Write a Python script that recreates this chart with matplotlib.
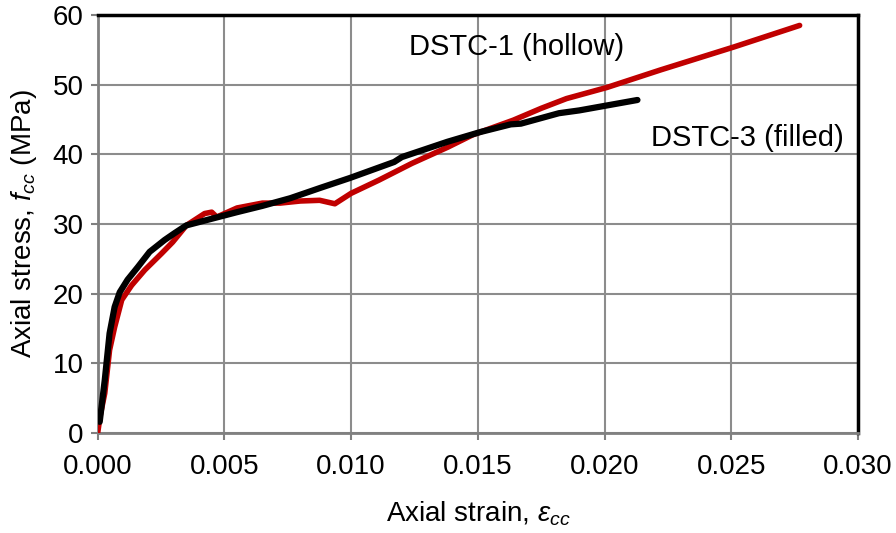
import matplotlib.pyplot as plt
import numpy as np

plt.rcParams['font.family'] = ['Liberation Sans', 'DejaVu Sans']
plt.rcParams['mathtext.fontset'] = 'custom'
plt.rcParams['mathtext.it'] = 'Liberation Sans:italic'
plt.rcParams['mathtext.rm'] = 'Liberation Sans'

# DSTC-1 (hollow), red
strain_1 = [0.0, 0.00010, 0.00028, 0.00047, 0.00067, 0.00095, 0.00134, 0.00186,
            0.00253, 0.00296, 0.0035, 0.00422, 0.0045, 0.0047, 0.0055, 0.0065,
            0.0072, 0.0080, 0.00876, 0.00936, 0.0100, 0.0111, 0.0124, 0.0138,
            0.0148, 0.0164, 0.0175, 0.0185, 0.0201, 0.0222, 0.0251, 0.0277]
stress_1 = [0.0, 2.5, 5.7, 11.9, 15.2, 19.1, 21.2, 23.4,
            25.8, 27.4, 29.8, 31.5, 31.7, 31.0, 32.3, 33.0,
            33.0, 33.3, 33.4, 32.9, 34.4, 36.3, 38.7, 41.0,
            42.8, 44.9, 46.6, 48.0, 49.6, 52.1, 55.4, 58.5]

# DSTC-3 (filled), black
strain_3 = [0.00008, 0.00028, 0.00047, 0.00067, 0.00087, 0.00118, 0.00158, 0.00205,
            0.00264, 0.00304, 0.0035, 0.00434, 0.0055, 0.0065, 0.0076, 0.0088,
            0.00995, 0.0117, 0.0120, 0.0138, 0.0151, 0.0163, 0.0167, 0.0182,
            0.0190, 0.0213]
stress_3 = [1.6, 7.6, 14.3, 18.1, 20.2, 22.0, 23.8, 26.0,
            27.7, 28.7, 29.8, 30.6, 31.7, 32.6, 33.7, 35.2,
            36.6, 38.9, 39.6, 41.8, 43.2, 44.3, 44.4, 45.9,
            46.3, 47.8]

fig = plt.figure(figsize=(8.96, 5.33), dpi=100)
ax = fig.add_axes([0.109, 0.1876, 0.8485, 0.7843])

ax.plot(strain_1, stress_1, color='#c00000', lw=4, solid_capstyle='round',
        solid_joinstyle='round', zorder=3)
ax.plot(strain_3, stress_3, color='black', lw=4.5, solid_capstyle='round',
        solid_joinstyle='round', zorder=4)

ax.set_xlim(0, 0.030)
ax.set_ylim(0, 60)
ax.set_xticks(np.arange(0, 0.0301, 0.005))
ax.set_yticks(np.arange(0, 61, 10))
ax.set_xticklabels([f'{v:.3f}' for v in np.arange(0, 0.0301, 0.005)])
ax.grid(True, color='#8c8c8c', lw=1.5)
ax.set_axisbelow(True)

for side in ['top', 'right']:
    ax.spines[side].set_color('black')
    ax.spines[side].set_linewidth(2.5)
for side in ['left', 'bottom']:
    ax.spines[side].set_color('#808080')
    ax.spines[side].set_linewidth(2)
ax.tick_params(direction='out', length=5, width=1.5, color='#808080',
               labelsize=20, pad=5)
ax.tick_params(axis='x', pad=10)

ax.set_xlabel(r'Axial strain, $\mathit{\varepsilon}_{cc}$', fontsize=20, labelpad=14)
ax.set_ylabel(r'Axial stress, $f_{cc}$ (MPa)', fontsize=20, labelpad=10)

ax.text(0.01652, 55.4, 'DSTC-1 (hollow)', fontsize=21, ha='center', va='center')
ax.text(0.02564, 42.4, 'DSTC-3 (filled)', fontsize=21, ha='center', va='center')

fig.savefig('out.png', dpi=100)
